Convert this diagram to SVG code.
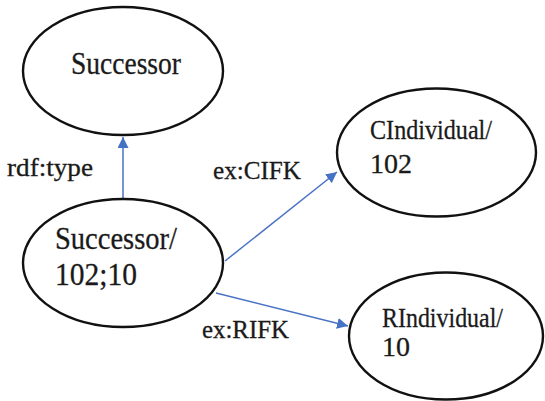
<svg xmlns="http://www.w3.org/2000/svg" width="545" height="401" viewBox="0 0 545 401">
  <style>
    .node { fill: #ffffff; stroke: #111111; stroke-width: 2.4; }
    .lbl { fill: #1a1a1a; stroke: #1a1a1a; stroke-width: 0.3; }
    .big { font-size: 31px; }
    .mid { font-size: 28px; }
    .edge-lbl { font-size: 25px; }
    .edge { stroke: #4a72c4; stroke-width: 1.5; fill: none; }
  </style>
  <defs>
    <marker id="arrow" markerWidth="11" markerHeight="11" refX="10" refY="5" orient="auto" markerUnits="userSpaceOnUse" viewBox="0 0 10 10">
      <path d="M0,0 L10,5 L0,10 z" fill="#4472c4"/>
    </marker>
  </defs>
  <rect width="545" height="401" fill="#ffffff"/>

  <g font-family="'Liberation Serif', 'DejaVu Serif', serif">
  <g id="connectors">
    <line class="edge" x1="123" y1="199" x2="123" y2="137" marker-end="url(#arrow)"/>
    <line class="edge" x1="225" y1="261" x2="337" y2="172" marker-end="url(#arrow)"/>
    <line class="edge" x1="216" y1="293" x2="348" y2="326" marker-end="url(#arrow)"/>
    <text class="lbl edge-lbl" x="7" y="176" textLength="86" lengthAdjust="spacingAndGlyphs">rdf:type</text>
    <text class="lbl edge-lbl" x="213" y="179" textLength="88" lengthAdjust="spacingAndGlyphs">ex:CIFK</text>
    <text class="lbl edge-lbl" x="202" y="338" textLength="87" lengthAdjust="spacingAndGlyphs">ex:RIFK</text>
  </g>

  <g id="successor">
    <ellipse class="node" cx="123" cy="71" rx="100" ry="64"/>
    <text class="lbl big" x="71" y="74" textLength="110" lengthAdjust="spacingAndGlyphs">Successor</text>
  </g>

  <g id="successor-102-10">
    <ellipse class="node" cx="123" cy="263" rx="100" ry="64"/>
    <text class="lbl big" x="55" y="249" textLength="122" lengthAdjust="spacingAndGlyphs">Successor/</text>
    <text class="lbl big" x="55" y="285" textLength="82" lengthAdjust="spacingAndGlyphs">102;10</text>
  </g>

  <g id="cindividual-102">
    <ellipse class="node" cx="436.5" cy="152.5" rx="99.5" ry="64"/>
    <text class="lbl mid" x="370" y="139" textLength="122" lengthAdjust="spacingAndGlyphs">CIndividual/</text>
    <text class="lbl mid" x="370" y="173">102</text>
  </g>

  <g id="rindividual-10">
    <ellipse class="node" cx="446" cy="336" rx="97" ry="63.5"/>
    <text class="lbl mid" x="382" y="327" textLength="121" lengthAdjust="spacingAndGlyphs">RIndividual/</text>
    <text class="lbl mid" x="382" y="356">10</text>
  </g>
  </g>
</svg>
